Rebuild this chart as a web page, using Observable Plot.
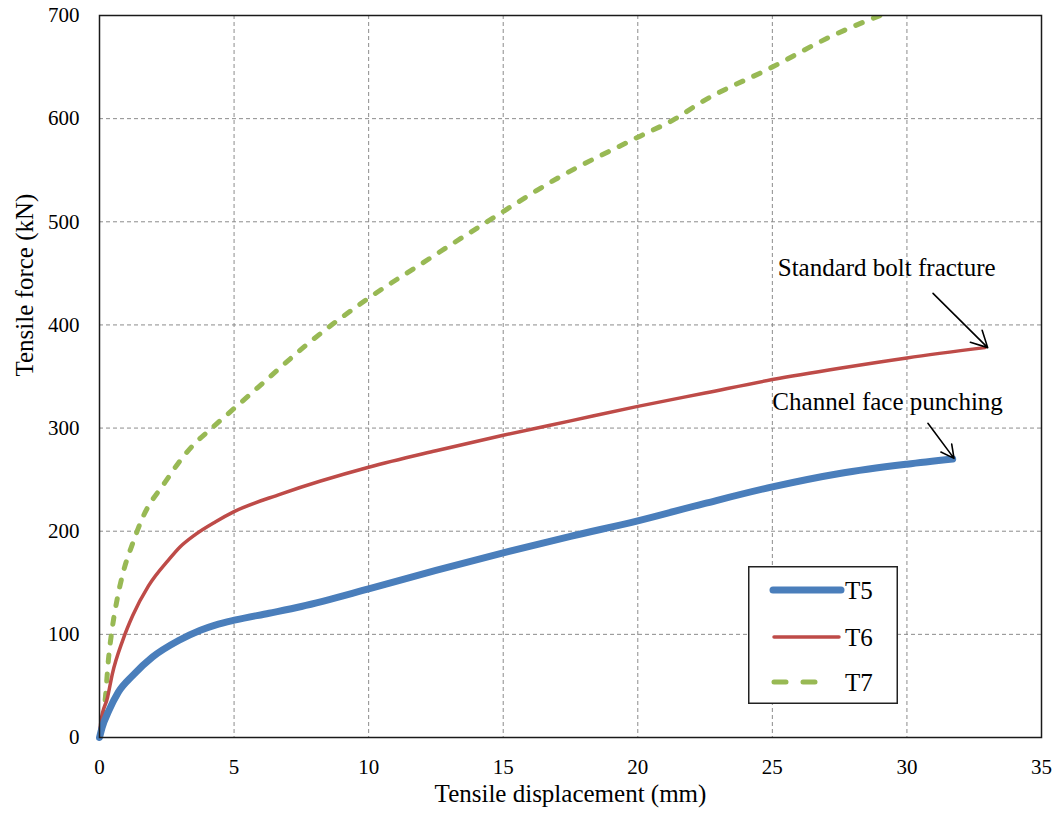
<!DOCTYPE html>
<html>
<head>
<meta charset="utf-8">
<script src="https://cdn.jsdelivr.net/npm/d3@7"></script>
<script src="https://cdn.jsdelivr.net/npm/@observablehq/plot@0.6"></script>
<style>
  html, body { margin: 0; padding: 0; background: #fff; }
  #wrap { position: relative; width: 1059px; height: 821px; }
  #legend { position: absolute; left: 748px; top: 566px; }
</style>
</head>
<body>
<div id="wrap"></div>
<script>
// ---- data ----
const seriesNames = ["T5", "T6", "T7"];
const seriesColors = ["#4a7ebb", "#be4b48", "#98b954"];

const t5x = [0, 0.1, 0.33, 0.7, 1.23, 1.97, 2.94, 3.75, 4.3, 5.06, 6.3, 7.5, 10, 12.5, 15, 17.5, 20, 22.5, 25, 27.5, 30, 31.7];
const t5y = [0, 10, 25, 44, 60, 78, 94, 104, 109, 114, 120.5, 127, 144, 162, 179, 195, 210, 227, 243, 256, 265, 270];

const t6x = [0, 0.05, 0.3, 0.48, 0.86, 1.23, 1.82, 2.56, 3.0, 3.57, 4.3, 5.0, 6.73, 10, 12.5, 15, 17.5, 20, 22.5, 25, 27.5, 30, 32.9];
const t6y = [0, 15, 39, 62, 94, 118, 147, 172, 185, 197, 209, 219, 236, 262, 278, 293, 307, 321, 334, 347, 358, 368, 378];

const t7x = [0, 0.22, 0.33, 0.48, 0.67, 0.9, 1.23, 1.6, 2.45, 2.9, 3.5, 4.13, 5.0, 5.87, 6.73, 7.66, 10, 12, 14.4, 17, 20, 21.4, 22.3, 25, 27.2, 29.0, 29.6];
const t7y = [0, 39, 75, 107, 136, 162, 188, 213, 248, 265, 284, 299, 319, 339, 359, 380, 426, 460, 500, 542, 582, 600, 615, 650, 680, 700, 706];

const xTicks = [0, 5, 10, 15, 20, 25, 30, 35];
const yTicks = [0, 100, 200, 300, 400, 500, 600, 700];

const noteTexts = ["Standard bolt fracture", "Channel face punching"];
const noteTextX = [25.2, 25.0];
const noteTextY = [455, 325];
const arrowX1 = [30.97, 30.78];
const arrowY1 = [430.6, 304.6];
const arrowX2 = [33.0, 31.75];
const arrowY2 = [378, 270.6];

// ---- tables ----
const t5 = t5x.map((x, i) => ({x, y: t5y[i]}));
const t6 = t6x.map((x, i) => ({x, y: t6y[i]}));
const t7 = t7x.map((x, i) => ({x, y: t7y[i]}));
const notes = noteTexts.map((t, i) => ({t, x: noteTextX[i], y: noteTextY[i]}));
const arrows = arrowX1.map((x1, i) => ({x1, y1: arrowY1[i], x2: arrowX2[i], y2: arrowY2[i]}));

const FONT = "'Liberation Serif', 'Times New Roman', serif";

const chart = Plot.plot({
  width: 1059,
  height: 821,
  marginLeft: 99,
  marginRight: 18,
  marginTop: 15,
  marginBottom: 84,
  style: {fontFamily: FONT, fontSize: "21px", color: "#000", background: "#fff", overflow: "visible"},
  x: {domain: [0, 35], ticks: xTicks},
  y: {domain: [0, 700], ticks: yTicks},
  marks: [
    Plot.gridX(xTicks.filter(d => d > 0 && d < 35), {stroke: "#8c8c8c", strokeOpacity: 1, strokeDasharray: "4,3", strokeWidth: 1}),
    Plot.gridY(yTicks.filter(d => d > 0 && d < 700), {stroke: "#8c8c8c", strokeOpacity: 1, strokeDasharray: "4,3", strokeWidth: 1}),
    Plot.axisX({ticks: xTicks, tickSize: 0, tickPadding: 22, label: null, fontSize: 21, fontFamily: FONT}),
    Plot.axisY({ticks: yTicks, tickSize: 0, tickPadding: 20, label: null, fontSize: 21, fontFamily: FONT}),
    Plot.line(t7, {x: "x", y: "y", stroke: seriesColors[2], strokeWidth: 5, strokeDasharray: "7,12", strokeLinecap: "round", curve: "monotone-x", clip: true}),
    Plot.line(t6, {x: "x", y: "y", stroke: seriesColors[1], strokeWidth: 3.5, strokeLinecap: "round", curve: "monotone-x"}),
    Plot.line(t5, {x: "x", y: "y", stroke: seriesColors[0], strokeWidth: 7, strokeLinecap: "round", curve: "monotone-x"}),
    Plot.frame({stroke: "#1a1a1a", strokeWidth: 1.5}),
    Plot.arrow(arrows, {x1: "x1", y1: "y1", x2: "x2", y2: "y2", stroke: "#000", strokeWidth: 1.6, headLength: 17, headAngle: 55}),
    Plot.text(notes, {x: "x", y: "y", text: "t", textAnchor: "start", fontSize: 25, fontFamily: FONT, fill: "#000"}),
    Plot.text(["Tensile displacement (mm)"], {frameAnchor: "bottom", dy: 64, fontSize: 25, fontFamily: FONT, fill: "#000"}),
    Plot.text(["Tensile force (kN)"], {frameAnchor: "left", dx: -75, rotate: -90, fontSize: 25, fontFamily: FONT, fill: "#000"})
  ]
});

const wrap = document.getElementById("wrap");
wrap.appendChild(chart);

// ---- legend (inside plot area) ----
const lw = 150, lh = 138;
const leg = d3.create("svg").attr("id", "legend").attr("width", lw).attr("height", lh)
  .style("font-family", FONT);
leg.append("rect").attr("x", 0.75).attr("y", 0.75).attr("width", lw - 1.5).attr("height", lh - 1.5)
  .attr("fill", "#fff").attr("stroke", "#222").attr("stroke-width", 1.5);
const rowY = [24, 71, 116];
const widths = [7, 3.5, 5];
const dashes = [null, null, "12,17"];
const x1s = [25, 26, 26];
const x2s = [93, 91, 77];
seriesNames.forEach((name, i) => {
  const l = leg.append("line").attr("x1", x1s[i]).attr("x2", x2s[i]).attr("y1", rowY[i]).attr("y2", rowY[i])
    .attr("stroke", seriesColors[i]).attr("stroke-width", widths[i]).attr("stroke-linecap", "round");
  if (dashes[i]) l.attr("stroke-dasharray", dashes[i]);
  leg.append("text").attr("x", 97).attr("y", rowY[i]).attr("dy", "0.34em").attr("font-size", 25).text(name);
});
wrap.appendChild(leg.node());
</script>
</body>
</html>
